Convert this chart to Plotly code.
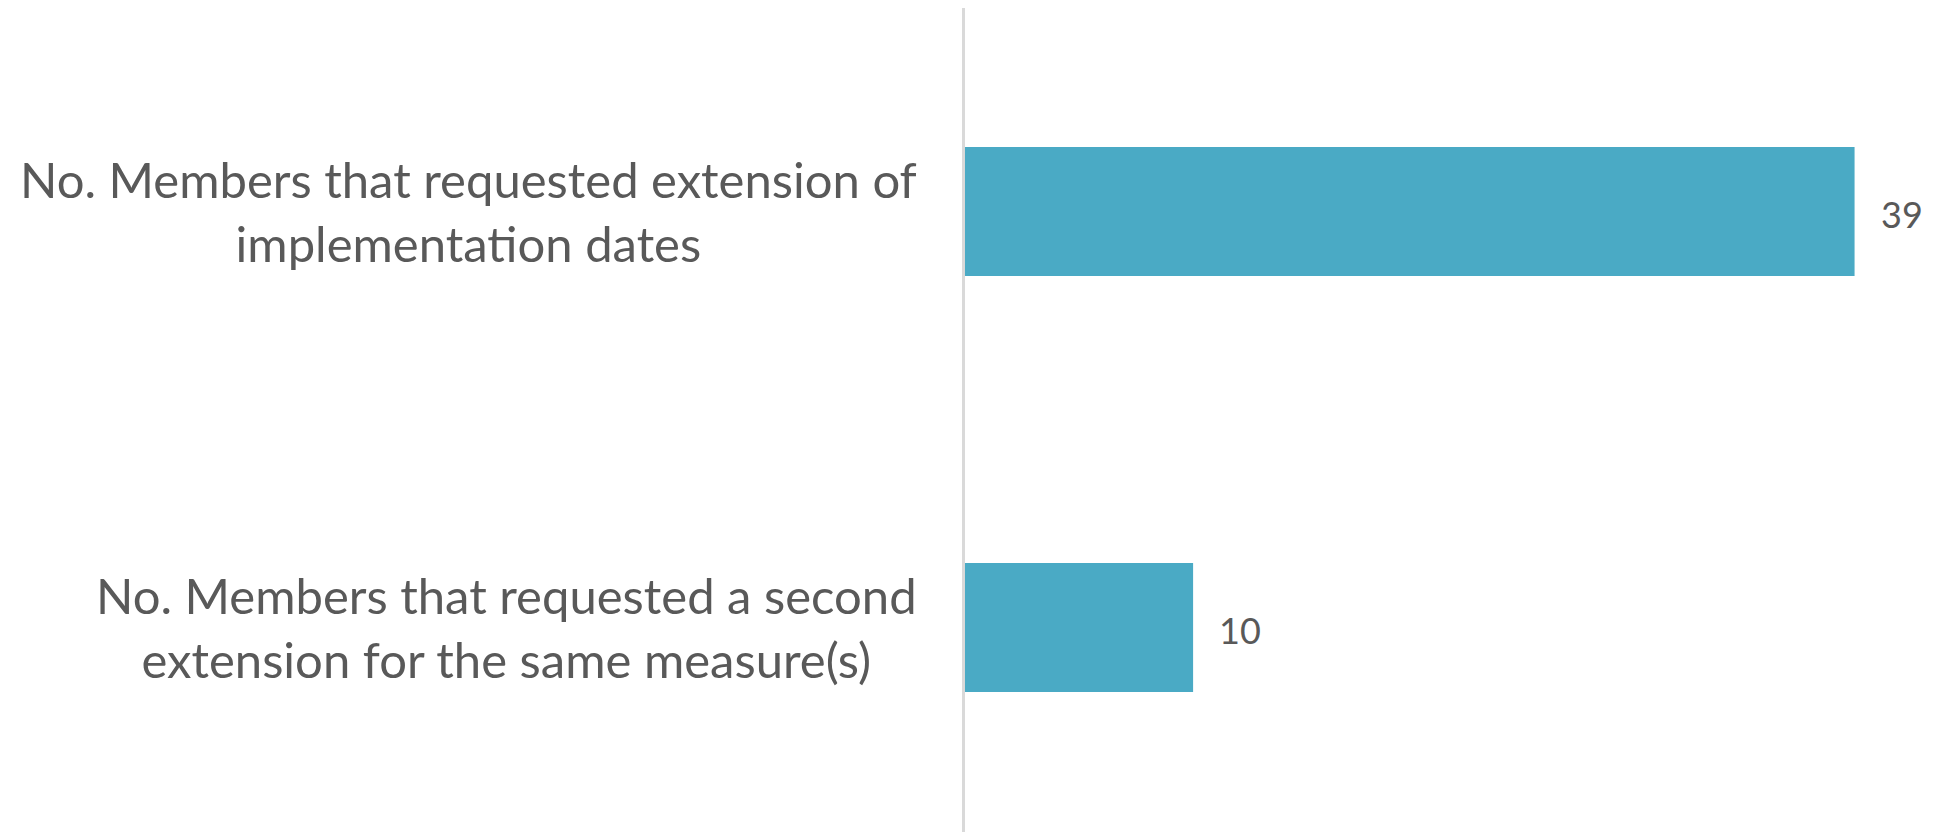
import plotly.graph_objects as go

categories = [
    "No. Members that requested extension of<br>implementation dates",
    "No. Members that requested a second<br>extension for the same measure(s)",
]
values = [39, 10]

FONT = "Lato, 'Open Sans', sans-serif"
TXT = "#595959"
BAR = "#4AAAC5"

W, H = 1939, 832
L = 957
PX_PER_UNIT = 22.8
XMAX = 42
plot_w = XMAX * PX_PER_UNIT
R = W - L - plot_w

fig = go.Figure(
    go.Bar(
        x=values,
        y=list(range(len(categories))),
        orientation="h",
        marker=dict(color=BAR, line=dict(width=0)),
        width=0.31,
        hoverinfo="x",
    )
)

for i, c in enumerate(categories):
    fig.add_annotation(
        x=0, xref="paper", y=i, yref="y",
        text=c, showarrow=False, xanchor="right", yanchor="middle",
        xshift=-46, align="center",
        font=dict(family=FONT, size=49, color=TXT),
    )

for i, v in enumerate(values):
    fig.add_annotation(
        x=v, xref="x", y=i, yref="y",
        text=str(v), showarrow=False, xanchor="left", yanchor="middle",
        xshift=24, yshift=-3,
        font=dict(family=FONT, size=36, color=TXT),
    )

fig.update_layout(
    width=W, height=H,
    margin=dict(l=L, r=R, t=0, b=0),
    paper_bgcolor="white", plot_bgcolor="white",
    showlegend=False,
)
fig.update_xaxes(range=[0, XMAX], visible=False, showgrid=False, zeroline=False)
fig.update_yaxes(
    range=[1.511, -0.489], showticklabels=False, showgrid=False, zeroline=False,
    showline=True, linecolor="#D9D9D9", linewidth=3, ticks="",
)

fig.write_html("out.html")
